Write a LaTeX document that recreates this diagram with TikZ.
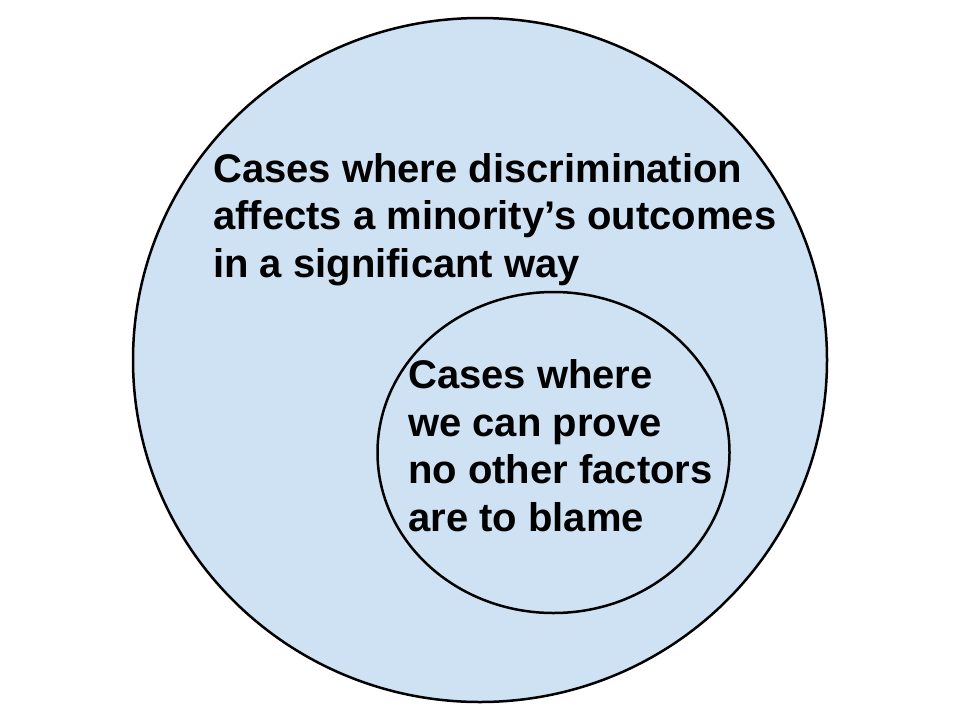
\documentclass[tikz,border=0pt]{standalone}
\usepackage{fontspec}
\setmainfont{Liberation Sans}
\usetikzlibrary{shapes.geometric}
\definecolor{vennfill}{HTML}{CFE2F3}
\begin{document}
\begin{tikzpicture}[x=1pt,y=-1pt,
  setshape/.style={draw=black, line width=2.5pt, fill=vennfill, ellipse, inner sep=0pt},
  settext/.style={inner sep=0pt, align=left, anchor=base west,
    font=\fontsize{40}{47.5}\selectfont\bfseries}]
\useasboundingbox[fill=white] (0,0) rectangle (960,720);
\node[setshape, minimum width=694pt, minimum height=684pt] (outer) at (480,360) {};
\node[setshape, minimum width=352pt, minimum height=321pt] (inner) at (553.5,452.5) {};
\node[settext] (outertext) at (213,277) {Cases where discrimination\\affects a minority’s outcomes\\in a significant way};
\node[settext] (innertext) at (408,531) {Cases where\\we can prove\\no other factors\\are to blame};
\end{tikzpicture}
\end{document}
